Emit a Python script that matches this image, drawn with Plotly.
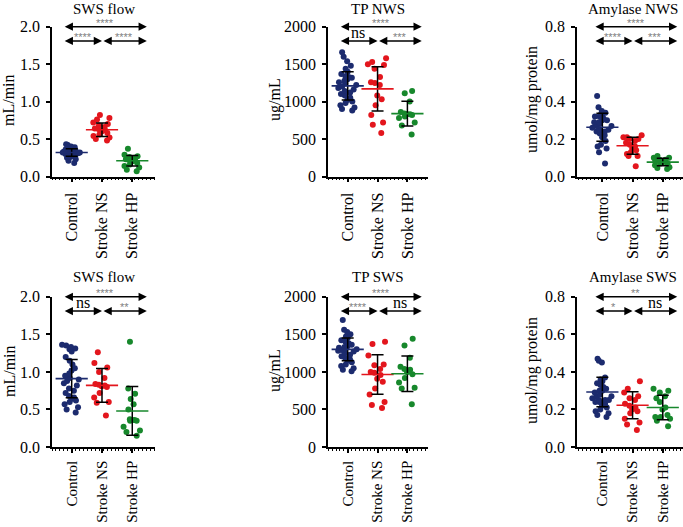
import plotly.graph_objects as go

# ---------------- data ----------------
GROUPS = ["Control", "Stroke NS", "Stroke HP"]
COLORS = ["#1c2b6e", "#e3161d", "#17882c"]

# Row 1 (NWS)
flow_nws_control = [0.43, 0.42, 0.40, 0.39, 0.38, 0.37, 0.36, 0.36, 0.35, 0.35, 0.34, 0.34, 0.33, 0.33, 0.32,
                    0.32, 0.32, 0.31, 0.31, 0.30, 0.30, 0.29, 0.29, 0.28, 0.27, 0.26, 0.25, 0.23, 0.21, 0.18]
flow_nws_ns = [0.82, 0.78, 0.76, 0.72, 0.70, 0.68, 0.66, 0.64, 0.63, 0.62, 0.60, 0.58, 0.56, 0.54, 0.52, 0.50, 0.48]
flow_nws_hp = [0.37, 0.29, 0.27, 0.26, 0.25, 0.23, 0.22, 0.21, 0.20, 0.18, 0.16, 0.14, 0.12, 0.09, 0.07]
flow_nws_mean = [0.32, 0.625, 0.21]
flow_nws_sd = [0.05, 0.09, 0.07]

tp_nws_control = [1660, 1600, 1540, 1480, 1440, 1400, 1370, 1340, 1330, 1320, 1300, 1280, 1260, 1240, 1220,
                  1200, 1180, 1160, 1140, 1120, 1100, 1080, 1050, 1020, 1000, 980, 950, 920, 900, 880]
tp_nws_ns = [1580, 1530, 1500, 1490, 1440, 1330, 1260, 1250, 1220, 1080, 1030, 950, 820, 720, 690, 580]
tp_nws_hp = [1140, 1110, 1000, 860, 840, 830, 830, 820, 800, 780, 720, 680, 560]
tp_nws_mean = [1210, 1170, 840]
tp_nws_sd = [190, 295, 165]

amy_nws_control = [0.43, 0.37, 0.35, 0.34, 0.33, 0.33, 0.32, 0.32, 0.31, 0.30, 0.30, 0.29, 0.29, 0.28, 0.27,
                   0.27, 0.26, 0.25, 0.25, 0.24, 0.24, 0.23, 0.22, 0.21, 0.19, 0.17, 0.16, 0.15, 0.13, 0.07]
amy_nws_ns = [0.22, 0.21, 0.21, 0.20, 0.20, 0.19, 0.18, 0.17, 0.16, 0.15, 0.14, 0.13, 0.12, 0.11, 0.11, 0.055]
amy_nws_hp = [0.11, 0.10, 0.10, 0.09, 0.09, 0.085, 0.08, 0.08, 0.075, 0.07, 0.07, 0.06, 0.05, 0.045, 0.04]
amy_nws_mean = [0.263, 0.164, 0.077]
amy_nws_sd = [0.075, 0.045, 0.02]

# Row 2 (SWS)
flow_sws_control = [1.36, 1.35, 1.33, 1.31, 1.30, 1.27, 1.20, 1.15, 1.10, 1.05, 1.02, 0.98, 0.95, 0.92, 0.90,
                    0.88, 0.85, 0.82, 0.78, 0.75, 0.72, 0.68, 0.66, 0.64, 0.62, 0.60, 0.57, 0.53, 0.50, 0.46]
flow_sws_ns = [1.26, 1.12, 1.06, 1.00, 0.92, 0.84, 0.83, 0.82, 0.81, 0.80, 0.72, 0.66, 0.60, 0.59, 0.42]
flow_sws_hp = [1.40, 0.78, 0.71, 0.64, 0.57, 0.50, 0.37, 0.36, 0.36, 0.35, 0.35, 0.27, 0.22, 0.20, 0.15]
flow_sws_mean = [0.91, 0.82, 0.48]
flow_sws_sd = [0.255, 0.225, 0.325]

tp_sws_control = [1690, 1560, 1530, 1500, 1470, 1450, 1420, 1400, 1380, 1360, 1340, 1330, 1320, 1310, 1300,
                  1290, 1280, 1270, 1250, 1230, 1210, 1190, 1170, 1150, 1130, 1100, 1080, 1050, 1030, 1010]
tp_sws_ns = [1400, 1370, 1220, 1100, 1090, 1040, 1000, 990, 960, 910, 870, 780, 700, 600, 560, 520]
tp_sws_hp = [1440, 1350, 1190, 1070, 1040, 1030, 1000, 970, 920, 860, 790, 780, 570]
tp_sws_mean = [1300, 965, 975]
tp_sws_sd = [150, 262, 237]

amy_sws_control = [0.47, 0.46, 0.45, 0.37, 0.36, 0.35, 0.34, 0.33, 0.32, 0.31, 0.30, 0.30, 0.29, 0.28, 0.27,
                   0.27, 0.26, 0.25, 0.25, 0.25, 0.24, 0.24, 0.23, 0.22, 0.21, 0.20, 0.19, 0.18, 0.17, 0.16]
amy_sws_ns = [0.35, 0.31, 0.29, 0.27, 0.26, 0.25, 0.23, 0.22, 0.21, 0.20, 0.19, 0.18, 0.15, 0.13, 0.12, 0.09]
amy_sws_hp = [0.31, 0.30, 0.29, 0.27, 0.26, 0.24, 0.21, 0.20, 0.17, 0.16, 0.16, 0.15, 0.14, 0.11]
amy_sws_mean = [0.293, 0.222, 0.21]
amy_sws_sd = [0.078, 0.072, 0.065]

TITLES = ["SWS flow", "TP NWS", "Amylase NWS", "SWS flow", "TP SWS", "Amylase SWS"]
YTITLES = ["mL/min", "ug/mL", "umol/mg protein", "mL/min", "ug/mL", "umol/mg protein"]
# significance labels: [Control vs HP (top), Control vs NS, NS vs HP]
SIG = [["****", "****", "****"],
       ["****", "ns", "***"],
       ["****", "****", "***"],
       ["****", "ns", "**"],
       ["****", "****", "ns"],
       ["**", "*", "ns"]]
YMAX = [2.0, 2000, 0.8, 2.0, 2000, 0.8]
YDTICK = [0.5, 500, 0.2, 0.5, 500, 0.2]
YFMT = [".1f", "d", ".1f", ".1f", "d", ".1f"]

PANELS = [
    ([flow_nws_control, flow_nws_ns, flow_nws_hp], flow_nws_mean, flow_nws_sd),
    ([tp_nws_control, tp_nws_ns, tp_nws_hp], tp_nws_mean, tp_nws_sd),
    ([amy_nws_control, amy_nws_ns, amy_nws_hp], amy_nws_mean, amy_nws_sd),
    ([flow_sws_control, flow_sws_ns, flow_sws_hp], flow_sws_mean, flow_sws_sd),
    ([tp_sws_control, tp_sws_ns, tp_sws_hp], tp_sws_mean, tp_sws_sd),
    ([amy_sws_control, amy_sws_ns, amy_sws_hp], amy_sws_mean, amy_sws_sd),
]

# ---------------- layout geometry ----------------
W, H = 683, 527
FONT = "Liberation Serif"
COL_PX = [(52, 155), (328, 428), (577, 683)]
COL_XRANGE = [(-0.65, 2.75), (-0.66, 2.69), (-0.84, 2.67)]
ROW_PX = [(26.7, 176.5), (296.8, 447.0)]
ROW_XFONT = [16, 15]
ROW_XSTANDOFF = [4, 2]
YTITLE_X = [9, 275, 532]
YTITLE_Y = [100, 371]
TITLE_Y = [9, 277]
TITLE_SIZE = 15
TITLE_XDATA = [1.08, 1.0, 1.0]
BR_LEFT, BR_MID, BR_RIGHT = -0.28, 1.0, 2.48

fig = go.Figure()
annotations = []
layout = {}

for k, (groups, means, sds) in enumerate(PANELS):
    r, c = divmod(k, 3)
    idx = "" if k == 0 else str(k + 1)
    xa, ya = "x" + idx, "y" + idx
    for g, vals in enumerate(groups):
        fig.add_trace(go.Box(
            y=vals, x0=g, width=0.8, boxpoints="all", jitter=0.85, pointpos=0,
            marker=dict(color=COLORS[g], size=6, line=dict(width=0)),
            line=dict(width=0), fillcolor="rgba(0,0,0,0)",
            xaxis=xa, yaxis=ya, showlegend=False, hoverinfo="y"))
    fig.add_trace(go.Scatter(
        x=[0, 1, 2], y=means, mode="markers",
        marker=dict(symbol="line-ew", size=23, color=COLORS,
                    line=dict(width=1.6, color=COLORS)),
        error_y=dict(type="data", array=sds, visible=True, color="black",
                     thickness=1.5, width=6),
        xaxis=xa, yaxis=ya, showlegend=False))

    x0, x1 = COL_PX[c]
    top, bot = ROW_PX[r]
    layout["xaxis" + idx] = dict(
        domain=[x0 / W, x1 / W], range=list(COL_XRANGE[c]), anchor=ya,
        tickvals=[0, 1, 2], ticktext=GROUPS, tickangle=-90, automargin=False,
        ticks="outside", ticklen=4, tickwidth=1.5, tickcolor="black",
        showline=True, linecolor="black", linewidth=1.5,
        showgrid=False, zeroline=False, ticklabelstandoff=ROW_XSTANDOFF[r],
        minor=dict(ticks="outside", ticklen=2, tickwidth=1, tickcolor="black",
                   tick0=0, dtick=0.13, showgrid=False),
        tickfont=dict(family=FONT, size=ROW_XFONT[r], color="black"))
    layout["yaxis" + idx] = dict(
        domain=[1 - bot / H, 1 - top / H], range=[0, YMAX[k]], anchor=xa,
        dtick=YDTICK[k], tick0=0, tickformat=YFMT[k], automargin=False,
        ticks="outside", ticklen=4, tickwidth=1.5, tickcolor="black",
        showline=True, linecolor="black", linewidth=1.5,
        showgrid=False, zeroline=False, ticklabelstandoff=3,
        tickfont=dict(family=FONT, size=16, color="black"))

    # panel title and y-axis title
    annotations.append(dict(text=TITLES[k], xref=xa, yref="paper",
                            x=TITLE_XDATA[c], y=1 - TITLE_Y[r] / H,
                            xanchor="center", yanchor="middle", showarrow=False,
                            font=dict(family=FONT, size=TITLE_SIZE, color="black")))
    annotations.append(dict(text=YTITLES[k], xref="paper", yref="paper",
                            x=YTITLE_X[c] / W, y=1 - YTITLE_Y[r] / H, textangle=-90,
                            showarrow=False, xanchor="center", yanchor="middle",
                            font=dict(family=FONT, size=16, color="black")))

    # significance brackets
    ymax = YMAX[k]
    y_top = ymax
    y_low = ymax * 0.905
    spans = [(BR_LEFT, BR_RIGHT, y_top), (BR_LEFT, BR_MID, y_low), (BR_MID, BR_RIGHT, y_low)]
    for (a, b, yy), lab in zip(spans, SIG[k]):
        annotations.append(dict(xref=xa, yref=ya, axref=xa, ayref=ya,
                                x=b, y=yy, ax=a, ay=yy, text="", showarrow=True,
                                arrowside="end+start", arrowhead=2, startarrowhead=2,
                                arrowsize=1.1, startarrowsize=1.1, arrowwidth=1.5,
                                arrowcolor="black", standoff=0, startstandoff=0))
        if lab == "ns":
            annotations.append(dict(xref=xa, yref=ya, x=(a + b) / 2, y=yy, text=lab,
                                    showarrow=False, yanchor="bottom", yshift=-2,
                                    font=dict(family=FONT, size=16, color="black")))
        else:
            annotations.append(dict(xref=xa, yref=ya, x=(a + b) / 2, y=yy, text=lab,
                                    showarrow=False, yanchor="bottom", yshift=-4,
                                    font=dict(family="Liberation Sans", size=11, color="#808080")))

fig.update_layout(
    template="none",
    width=W, height=H, margin=dict(l=0, r=0, t=0, b=0, pad=0, autoexpand=False),
    paper_bgcolor="white", plot_bgcolor="white",
    boxmode="overlay", showlegend=False, annotations=annotations, **layout)

fig.write_html("out.html", config={"displayModeBar": False},
               post_script="document.body.style.margin='0px';")
